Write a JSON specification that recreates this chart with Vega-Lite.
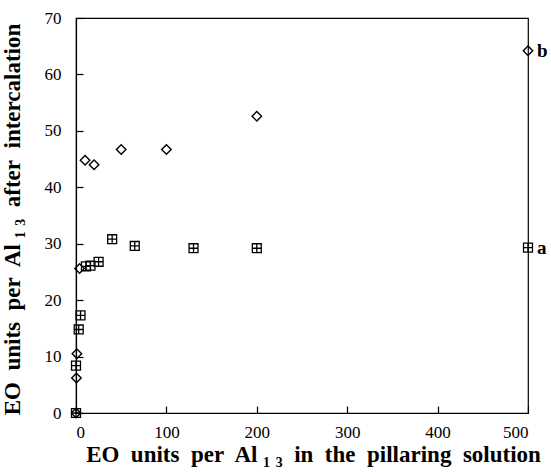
{
  "$schema": "https://vega.github.io/schema/vega-lite/v6.json",
  "autosize": "none",
  "width": 452,
  "height": 395,
  "padding": {"left": 76, "top": 18, "right": 23, "bottom": 59},
  "background": "white",
  "config": {
    "view": {"stroke": "black", "strokeWidth": 1.2},
    "font": "Liberation Serif",
    "axis": {
      "domainColor": "black",
      "tickColor": "black",
      "labelColor": "black",
      "titleColor": "black",
      "labelFont": "Liberation Serif",
      "titleFont": "Liberation Serif",
      "labelFontSize": 17,
      "titleFontSize": 23,
      "titleFontWeight": "bold",
      "grid": false,
      "tickSize": -7,
      "tickWidth": 1.2,
      "domainWidth": 1.2
    }
  },
  "datasets": {
    "pts": [
      {"x": 0, "y": 0, "s": "a"},
      {"x": 0, "y": 8.4, "s": "a"},
      {"x": 3, "y": 14.8, "s": "a"},
      {"x": 5, "y": 17.3, "s": "a"},
      {"x": 11, "y": 26.0, "s": "a"},
      {"x": 16, "y": 26.1, "s": "a"},
      {"x": 25, "y": 26.8, "s": "a"},
      {"x": 40, "y": 30.8, "s": "a"},
      {"x": 65, "y": 29.6, "s": "a"},
      {"x": 130, "y": 29.2, "s": "a"},
      {"x": 200, "y": 29.2, "s": "a"},
      {"x": 500, "y": 29.3, "s": "a"},
      {"x": 0, "y": 0, "s": "b"},
      {"x": 0.5, "y": 6.2, "s": "b"},
      {"x": 1, "y": 10.5, "s": "b"},
      {"x": 4, "y": 25.6, "s": "b"},
      {"x": 10, "y": 44.8, "s": "b"},
      {"x": 20, "y": 44.0, "s": "b"},
      {"x": 50, "y": 46.7, "s": "b"},
      {"x": 100, "y": 46.7, "s": "b"},
      {"x": 200, "y": 52.6, "s": "b"},
      {"x": 500, "y": 64.2, "s": "b"}
    ],
    "labs": [
      {"x": 500, "y": 29.3, "t": "a"},
      {"x": 500, "y": 64.2, "t": "b"}
    ]
  },
  "layer": [
    {
      "data": {"name": "pts"},
      "transform": [{"filter": "datum.s === 'a'"}],
      "mark": {
        "type": "point",
        "shape": "M-1,-1H1V1H-1Z M0,-1V1 M-1,0H1",
        "filled": false,
        "stroke": "black",
        "strokeWidth": 1.3,
        "size": 80,
        "opacity": 1
      },
      "encoding": {
        "x": {
          "field": "x", "type": "quantitative",
          "scale": {"domain": [0, 500], "nice": false, "zero": true},
          "axis": {
            "values": [0, 100, 200, 300, 400, 500],
            "title": "EO\u00a0 units\u00a0 per\u00a0 Al\u00a0₁\u00a0₃\u00a0 in\u00a0 the\u00a0 pillaring\u00a0 solution",
            "labelPadding": 18,
            "titleX": 237,
            "titleY": 48,
            "titleBaseline": "alphabetic",
            "titleAnchor": "middle"
          }
        },
        "y": {
          "field": "y", "type": "quantitative",
          "scale": {"domain": [0, 70], "nice": false},
          "axis": {
            "values": [0, 10, 20, 30, 40, 50, 60, 70],
            "title": "EO\u00a0 units\u00a0 per\u00a0 Al\u00a0₁\u00a0₃\u00a0 after\u00a0 intercalation",
            "labelPadding": 22,
            "titleX": -57,
            "titleY": 201,
            "titleBaseline": "alphabetic",
            "titleAnchor": "middle"
          }
        }
      }
    },
    {
      "data": {"name": "pts"},
      "transform": [{"filter": "datum.s === 'b'"}],
      "mark": {
        "type": "point",
        "shape": "diamond",
        "filled": false,
        "stroke": "black",
        "strokeWidth": 1.4,
        "size": 90,
        "opacity": 1
      },
      "encoding": {
        "x": {"field": "x", "type": "quantitative"},
        "y": {"field": "y", "type": "quantitative"}
      }
    },
    {
      "data": {"name": "labs"},
      "mark": {
        "type": "text",
        "align": "left",
        "baseline": "middle",
        "dx": 9,
        "dy": 0,
        "font": "Liberation Serif",
        "fontSize": 19,
        "fontWeight": "bold",
        "color": "black",
        "clip": false
      },
      "encoding": {
        "x": {"field": "x", "type": "quantitative"},
        "y": {"field": "y", "type": "quantitative"},
        "text": {"field": "t"}
      }
    }
  ]
}
